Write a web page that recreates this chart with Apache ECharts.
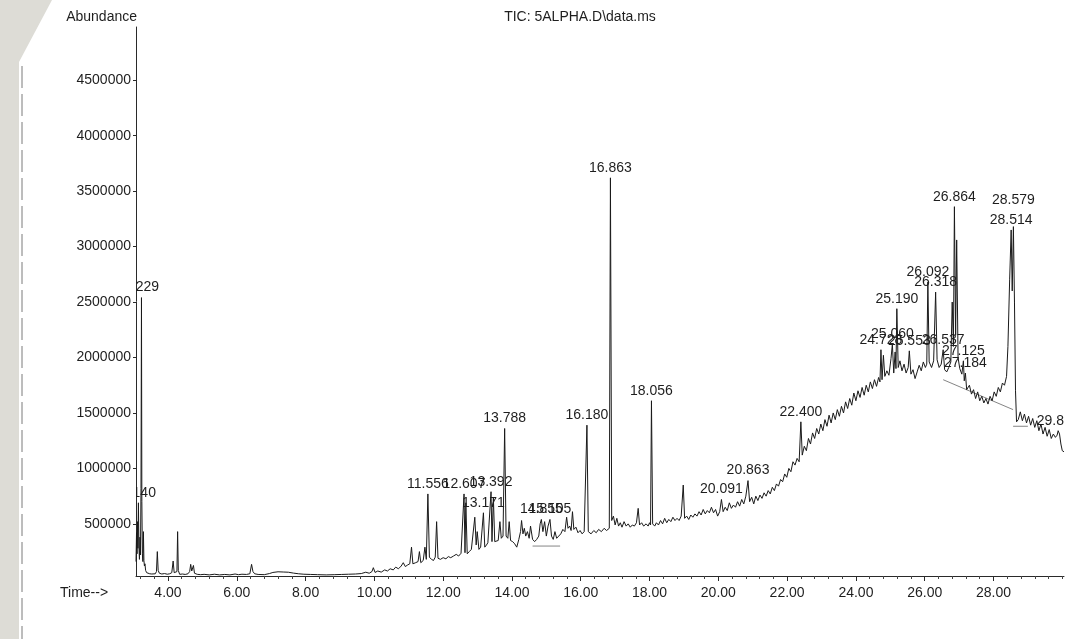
<!DOCTYPE html>
<html>
<head>
<meta charset="utf-8">
<title>TIC: 5ALPHA.D\data.ms</title>
<script src="https://cdn.jsdelivr.net/npm/echarts@6/dist/echarts.min.js"></script>
<style>
  html, body { margin: 0; padding: 0; background: #ffffff; }
  #chart { width: 1078px; height: 639px; }
</style>
</head>
<body>
<div id="chart"></div>
<script>
// Total ion chromatogram: retention time (min) vs abundance (counts)

// Axis ticks
const yTickValues = [500000, 1000000, 1500000, 2000000, 2500000, 3000000, 3500000, 4000000, 4500000];
const xTickValues = [4, 6, 8, 10, 12, 14, 16, 18, 20, 22, 24, 26, 28];

// Integrated peaks: retention time, apex abundance, printed label
const peakTimes = [3.140, 3.229, 11.556, 12.607, 13.171, 13.392, 13.788, 14.855, 15.105, 16.180,
  16.863, 18.056, 20.091, 20.863, 22.400, 24.728, 25.060, 25.190, 25.553, 26.092,
  26.318, 26.537, 26.864, 27.125, 27.184, 28.514, 28.579, 29.880];
const peakAbundance = [690000, 2540000, 770000, 770000, 600000, 790000, 1360000, 540000, 540000, 1390000,
  3620000, 1610000, 720000, 890000, 1420000, 2070000, 2120000, 2440000, 2060000, 2680000,
  2590000, 2070000, 3360000, 1970000, 1860000, 3150000, 3180000, 1340000];
const peakLabels = ['3.140', '3.229', '11.556', '12.607', '13.171', '13.392', '13.788', '14.855', '15.105', '16.180',
  '16.863', '18.056', '20.091', '20.863', '22.400', '24.728', '25.060', '25.190', '25.553', '26.092',
  '26.318', '26.537', '26.864', '27.125', '27.184', '28.514', '28.579', '29.880'];

// Remaining scans of the trace (time, abundance)
const traceScans = [
  [3.07,160000],[3.085,420000],[3.10,230000],[3.115,520000],[3.125,280000],
  [3.155,300000],[3.17,180000],[3.185,380000],[3.20,220000],[3.215,820000],
  [3.24,700000],[3.255,230000],[3.27,160000],[3.285,430000],[3.30,170000],[3.315,120000],[3.33,140000],
  [3.35,80000],[3.38,60000],[3.42,55000],[3.47,50000],[3.53,48000],[3.58,52000],[3.63,50000],
  [3.665,70000],[3.69,250000],[3.715,80000],[3.75,55000],[3.82,48000],[3.9,52000],[3.98,46000],
  [4.05,50000],[4.11,60000],[4.15,165000],[4.18,60000],[4.23,50000],[4.26,70000],[4.28,430000],
  [4.30,80000],[4.34,45000],[4.42,48000],[4.5,44000],[4.58,50000],[4.63,70000],[4.66,135000],
  [4.69,75000],[4.72,70000],[4.74,125000],[4.77,55000],[4.85,45000],[4.95,42000],[5.05,45000],
  [5.2,40000],[5.35,46000],[5.5,40000],[5.65,44000],[5.8,40000],[5.95,48000],[6.05,42000],
  [6.15,46000],[6.28,44000],[6.38,50000],[6.43,135000],[6.47,70000],[6.52,50000],[6.62,44000],
  [6.8,42000],[6.95,52000],[7.05,62000],[7.2,68000],[7.35,66000],[7.5,64000],[7.65,56000],
  [7.8,50000],[7.95,46000],[8.15,44000],[8.35,42000],[8.6,40000],[8.85,42000],[9.05,44000],
  [9.25,46000],[9.45,48000],[9.62,52000],[9.75,64000],[9.85,55000],[9.93,70000],[9.97,105000],
  [10.02,62000],[10.1,75000],[10.2,65000],[10.3,85000],[10.38,75000],[10.46,95000],[10.55,85000],
  [10.62,110000],[10.7,95000],[10.78,120000],[10.84,150000],[10.9,115000],[10.97,130000],
  [11.03,140000],[11.08,290000],[11.12,140000],[11.2,150000],[11.27,160000],[11.31,250000],
  [11.35,150000],[11.42,170000],[11.47,290000],[11.51,180000],
  [11.6,200000],[11.66,180000],[11.72,170000],[11.77,200000],[11.81,520000],[11.85,190000],
  [11.92,180000],[12.0,195000],[12.08,185000],[12.15,205000],[12.22,195000],[12.3,210000],
  [12.38,225000],[12.45,210000],[12.52,235000],[12.57,220000],
  [12.635,240000],[12.66,690000],[12.70,230000],[12.76,250000],[12.82,270000],[12.87,260000],
  [12.92,560000],[12.96,310000],[12.99,430000],[13.04,270000],[13.09,290000],[13.13,280000],
  [13.21,290000],[13.26,310000],[13.3,330000],[13.35,320000],
  [13.42,340000],[13.46,740000],[13.5,340000],[13.55,330000],[13.6,350000],[13.65,520000],
  [13.69,370000],[13.74,390000],
  [13.83,390000],[13.88,370000],[13.92,520000],[13.96,350000],[14.02,340000],[14.08,320000],
  [14.14,290000],[14.2,360000],[14.25,430000],[14.28,530000],[14.32,410000],[14.36,460000],
  [14.4,390000],[14.45,430000],[14.5,370000],[14.54,480000],[14.6,360000],[14.66,340000],
  [14.72,360000],[14.78,390000],[14.82,500000],
  [14.9,430000],[14.95,520000],[15.0,390000],[15.05,480000],
  [15.15,390000],[15.2,360000],[15.25,430000],[15.3,370000],[15.36,390000],[15.42,410000],
  [15.48,450000],[15.54,430000],[15.59,560000],[15.63,460000],[15.68,480000],[15.72,440000],
  [15.76,610000],[15.8,450000],[15.86,470000],[15.92,420000],[15.98,440000],[16.04,410000],
  [16.1,430000],[16.15,420000],
  [16.22,430000],[16.3,410000],[16.38,440000],[16.45,420000],[16.52,450000],[16.6,430000],
  [16.68,460000],[16.75,440000],[16.83,460000],
  [16.9,530000],[16.95,570000],[17.0,490000],[17.05,550000],[17.1,480000],[17.15,510000],
  [17.2,470000],[17.26,520000],[17.32,480000],[17.38,500000],[17.44,470000],[17.5,490000],
  [17.56,480000],[17.62,510000],[17.67,640000],[17.71,490000],[17.77,510000],[17.83,480000],
  [17.9,500000],[17.96,480000],[18.0,510000],[18.03,490000],
  [18.09,500000],[18.15,480000],[18.2,510000],[18.26,490000],[18.32,530000],[18.38,500000],
  [18.44,550000],[18.5,510000],[18.56,540000],[18.62,520000],[18.68,560000],[18.74,530000],
  [18.8,550000],[18.86,530000],[18.92,570000],[18.98,850000],[19.02,550000],[19.08,570000],
  [19.14,540000],[19.2,580000],[19.26,560000],[19.32,590000],[19.38,570000],[19.44,610000],
  [19.5,580000],[19.56,630000],[19.62,590000],[19.68,620000],[19.74,600000],[19.8,650000],
  [19.86,600000],[19.92,630000],[19.98,570000],[20.04,610000],
  [20.14,610000],[20.2,650000],[20.26,620000],[20.32,690000],[20.38,640000],[20.44,670000],
  [20.5,650000],[20.56,700000],[20.62,660000],[20.68,720000],[20.74,680000],[20.8,750000],
  [20.91,700000],[20.97,740000],[21.03,680000],[21.09,750000],[21.15,710000],[21.21,760000],
  [21.27,730000],[21.33,780000],[21.39,750000],[21.45,800000],[21.51,770000],[21.57,830000],
  [21.63,800000],[21.69,860000],[21.75,840000],[21.81,900000],[21.87,880000],[21.93,950000],
  [21.99,920000],[22.05,1000000],[22.11,970000],[22.17,1060000],[22.23,1030000],[22.29,1090000],
  [22.35,1060000],
  [22.44,1120000],[22.5,1200000],[22.56,1160000],[22.62,1270000],[22.68,1220000],[22.74,1320000],
  [22.8,1270000],[22.86,1360000],[22.92,1310000],[22.98,1400000],[23.04,1340000],[23.1,1440000],
  [23.16,1380000],[23.22,1480000],[23.28,1410000],[23.34,1500000],[23.4,1440000],[23.46,1530000],
  [23.52,1470000],[23.58,1560000],[23.64,1500000],[23.7,1600000],[23.76,1540000],[23.82,1630000],
  [23.88,1570000],[23.94,1680000],[24.0,1610000],[24.06,1700000],[24.12,1640000],[24.18,1730000],
  [24.24,1660000],[24.3,1750000],[24.36,1690000],[24.42,1780000],[24.48,1720000],[24.54,1800000],
  [24.6,1740000],[24.66,1820000],[24.7,1780000],
  [24.76,1800000],[24.8,2020000],[24.84,1830000],[24.9,1880000],[24.96,1840000],[25.02,1990000],
  [25.1,1860000],[25.14,2050000],[25.165,1900000],
  [25.23,1910000],[25.28,1970000],[25.34,1880000],[25.4,1940000],[25.46,1860000],[25.52,1910000],
  [25.6,1850000],[25.66,1890000],[25.72,1810000],[25.78,1870000],[25.84,1930000],[25.9,1880000],
  [25.96,1960000],[26.02,1910000],[26.06,1940000],
  [26.13,1960000],[26.2,1910000],[26.26,1970000],
  [26.36,1980000],[26.42,1910000],[26.48,1940000],
  [26.58,1890000],[26.64,1870000],[26.7,1910000],[26.76,1960000],[26.8,2500000],[26.835,2100000],
  [26.9,2200000],[26.93,3060000],[26.97,2000000],[27.02,1900000],[27.08,1850000],
  [27.15,1790000],
  [27.22,1710000],[27.3,1750000],[27.36,1670000],[27.42,1710000],[27.48,1630000],[27.54,1690000],
  [27.6,1610000],[27.66,1650000],[27.72,1590000],[27.78,1630000],[27.84,1580000],[27.9,1650000],
  [27.96,1610000],[28.02,1690000],[28.08,1650000],[28.14,1730000],[28.2,1690000],[28.26,1770000],
  [28.32,1750000],[28.38,1830000],[28.42,2100000],[28.47,2700000],
  [28.545,2600000],
  [28.61,2500000],[28.64,1700000],[28.67,1420000],[28.72,1440000],[28.78,1510000],[28.84,1430000],
  [28.9,1490000],[28.96,1410000],[29.02,1470000],[29.08,1390000],[29.14,1450000],[29.2,1370000],
  [29.26,1430000],[29.32,1340000],[29.38,1400000],[29.44,1310000],[29.5,1370000],[29.56,1290000],
  [29.62,1350000],[29.68,1270000],[29.74,1310000],[29.8,1280000],[29.85,1300000],
  [29.92,1310000],[29.96,1220000],[30.0,1160000],[30.05,1150000]
];

// Integration baselines drawn under some peak groups
const integrationBaselines = [
  [[14.60, 300000], [15.40, 300000]],
  [[26.537, 1800000], [28.57, 1530000]],
  [[28.57, 1380000], [29.00, 1380000]]
];

// Build the full trace (scans + peak apexes), ordered by time
const ticTrace = traceScans
  .concat(peakTimes.map((t, i) => [t, peakAbundance[i]]))
  .sort((a, b) => a[0] - b[0]);

const baselineData = [];
integrationBaselines.forEach(seg => { baselineData.push(seg[0], seg[1], [null, null]); });

// Minor ticks on the time axis every 0.4 min
const minorTicks = [];
for (let k = 0; k < 70; k++) {
  const v = Math.round((3.2 + k * 0.4) * 10) / 10;
  if (v > 30.05) break;
  if (xTickValues.indexOf(v) < 0) minorTicks.push(v);
}

// Labels that the printer stacked one line higher to avoid collisions
const labelLift = { '28.579': -16 };

const FONT = '"Liberation Sans", Arial, sans-serif';
const INK = '#1e1e1e';
const X_MIN = 3.07, X_MAX = 30.05;
const Y_MIN = 30000, Y_MAX = 4980000;
const GRID = { left: 136, right: 14, top: 27, bottom: 63 };
const W = 1078, H = 639;

const chart = echarts.init(document.getElementById('chart'), null, { renderer: 'canvas' });

chart.setOption({
  animation: false,
  backgroundColor: '#ffffff',
  grid: Object.assign({ containLabel: false }, GRID),
  xAxis: [{
    type: 'value',
    min: X_MIN, max: X_MAX,
    axisLine: { show: true, lineStyle: { color: '#2a2a2a', width: 1 } },
    axisTick: { show: true, customValues: xTickValues, length: 5, lineStyle: { color: '#2a2a2a' } },
    axisLabel: {
      show: true, customValues: xTickValues, margin: 10,
      formatter: v => Number(v).toFixed(2),
      color: INK, fontFamily: FONT, fontSize: 14
    },
    splitLine: { show: false }
  }, {
    type: 'value',
    min: X_MIN, max: X_MAX,
    position: 'bottom',
    axisLine: { show: false },
    axisTick: { show: true, customValues: minorTicks, length: 3, lineStyle: { color: '#444' } },
    axisLabel: { show: false },
    splitLine: { show: false }
  }],
  yAxis: {
    type: 'value',
    min: Y_MIN, max: Y_MAX,
    axisLine: { show: true, lineStyle: { color: '#2a2a2a', width: 1 } },
    axisTick: { show: true, customValues: yTickValues, length: 3, lineStyle: { color: '#2a2a2a' } },
    axisLabel: {
      show: true, customValues: yTickValues, margin: 5,
      formatter: v => String(v),
      color: INK, fontFamily: FONT, fontSize: 14
    },
    splitLine: { show: false }
  },
  series: [{
    name: 'TIC',
    type: 'line',
    data: ticTrace,
    showSymbol: false,
    symbol: 'none',
    clip: true,
    sampling: null,
    lineStyle: { color: '#1a1a1a', width: 1 },
    z: 3
  }, {
    name: 'baseline',
    type: 'line',
    data: baselineData,
    connectNulls: false,
    showSymbol: false,
    symbol: 'none',
    clip: true,
    lineStyle: { color: '#666', width: 0.8 },
    z: 2
  }, {
    name: 'peak labels',
    type: 'custom',
    clip: true,
    data: peakTimes.map((t, i) => [t, peakAbundance[i], i]),
    renderItem: (params, api) => {
      const i = api.value(2);
      const p = api.coord([api.value(0), api.value(1)]);
      const text = peakLabels[i];
      return {
        type: 'text',
        x: p[0],
        y: p[1] - 3 + (labelLift[text] || 0),
        style: {
          text: text,
          align: 'center',
          verticalAlign: 'bottom',
          fontFamily: FONT,
          fontSize: 14,
          fill: INK
        }
      };
    },
    z: 5
  }],
  graphic: [
    // printed labels stop at the right edge of the plot frame
    { type: 'rect', silent: true, z: 100,
      shape: { x: W - GRID.right + 1, y: 0, width: GRID.right, height: H },
      style: { fill: '#ffffff' } },
    { type: 'polygon', silent: true, z: -10,
      shape: { points: [[0, 0], [52, 0], [19, 62], [19, 639], [0, 639]] },
      style: { fill: '#dddcd6' } },
    { type: 'line', silent: true, z: -9,
      shape: { x1: 22, y1: 66, x2: 22, y2: 639 },
      style: { stroke: '#7a7a7a', lineWidth: 1, lineDash: [22, 6] } },
    { type: 'text', silent: true,
      x: 137, y: 17,
      style: { text: 'Abundance', align: 'right', verticalAlign: 'middle', fontFamily: FONT, fontSize: 14, fill: INK } },
    { type: 'text', silent: true,
      x: 580, y: 17,
      style: { text: 'TIC: 5ALPHA.D\\data.ms', align: 'center', verticalAlign: 'middle', fontFamily: FONT, fontSize: 14, fill: INK } },
    { type: 'text', silent: true,
      x: 60, y: 593,
      style: { text: 'Time-->', align: 'left', verticalAlign: 'middle', fontFamily: FONT, fontSize: 14, fill: INK } }
  ]
});
</script>
</body>
</html>
